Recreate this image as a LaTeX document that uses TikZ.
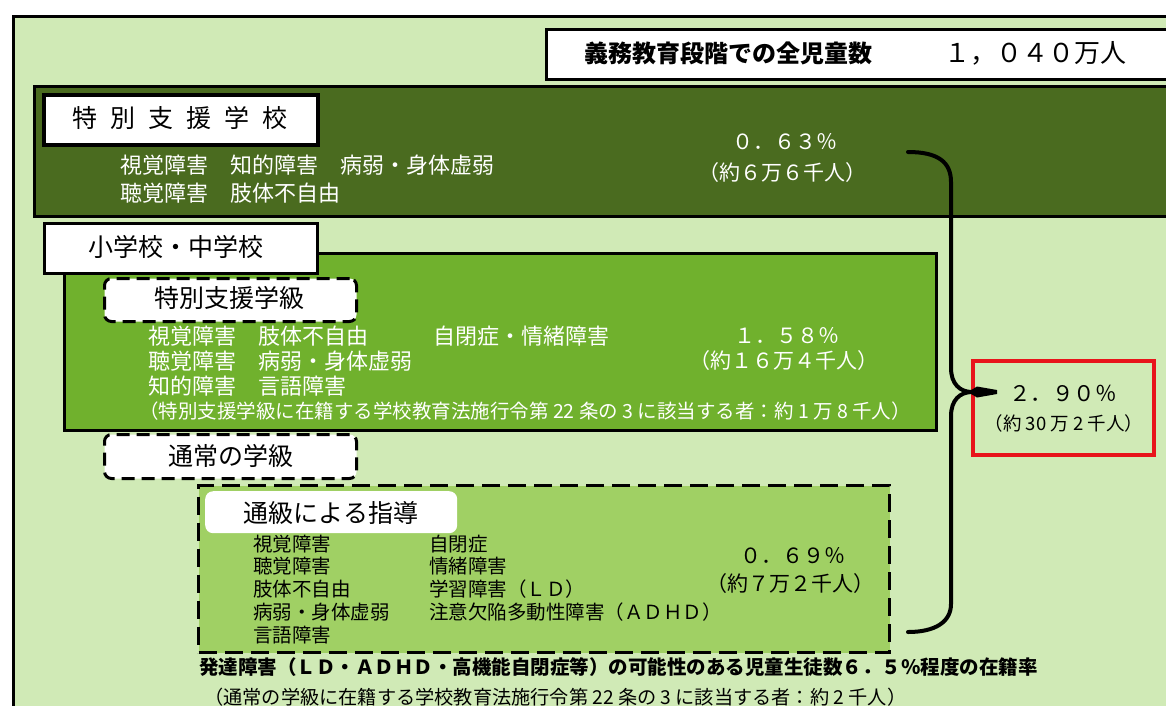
\documentclass[tikz,border=0pt]{standalone}
\usepackage{fontspec}
\setmainfont{Noto Sans CJK JP}
\definecolor{bgg}{HTML}{D0EAB6}
\definecolor{dkg}{HTML}{4A6B1F}
\definecolor{mdg}{HTML}{70B12D}
\definecolor{ltg}{HTML}{A0D064}
\definecolor{redb}{HTML}{E8141B}
\newcommand{\fsz}[1]{\fontsize{#1}{#1}\selectfont}
\tikzset{
  box/.style={draw=black, line width=3pt, inner sep=0pt, anchor=north west},
  dbox/.style={draw=black, line width=3pt, inner sep=0pt, anchor=north west, fill=white, rounded corners=7pt, dash pattern=on 13pt off 7pt},
  txt/.style={inner sep=0pt, anchor=west},
  ctxt/.style={inner sep=0pt, anchor=center},
  brace/.style={draw=black, line width=4pt, line cap=round}
}
\begin{document}
\begin{tikzpicture}[x=1pt,y=-1pt]
\useasboundingbox (0,0) rectangle (1166,705);
\clip (0,0) rectangle (1166,705);
% outer background
\node[box, fill=bgg, minimum width=1200pt, minimum height=720pt] (outer) at (12,15) {};
% header
\node[box, fill=white, minimum width=650pt, minimum height=50pt] (header) at (545,28) {};
\node[ctxt, font=\fsz{24}\bfseries] (title) at (728,53) {義務教育段階での全児童数};
\node[ctxt, font=\fsz{26}] (total) at (1035,53) {１，０４０万人};
% special support school
\node[box, fill=dkg, minimum width=1150pt, minimum height=130pt] (school) at (33,85) {};
\node[box, fill=white, line width=4pt, minimum width=274pt, minimum height=50pt] (schooltag) at (42,93) {};
\node[ctxt, font=\fsz{25}] (schoolname) at (180,118) {特\hspace{13pt}別\hspace{13pt}支\hspace{13pt}援\hspace{13pt}学\hspace{13pt}校};
\node[txt, font=\fsz{22}, text=white] (s1) at (120,165) {視覚障害　知的障害　病弱・身体虚弱};
\node[txt, font=\fsz{22}, text=white] (s2) at (120,193) {聴覚障害　肢体不自由};
\node[ctxt, font=\fsz{21}, text=white] (spct) at (785,142) {０．６３％};
\node[ctxt, font=\fsz{21}, text=white] (snum) at (782,173) {（約６万６千人）};
% elementary / junior high
\node[box, fill=mdg, minimum width=872pt, minimum height=177pt] (elem) at (63,252) {};
\node[box, fill=white, minimum width=273pt, minimum height=50pt] (elemtag) at (43,222) {};
\node[ctxt, font=\fsz{25}] (elemname) at (176,247) {小学校・中学校};
\node[dbox, minimum width=252pt, minimum height=43pt] (classtag) at (103,277) {};
\node[ctxt, font=\fsz{25}] (classname) at (229,298) {特別支援学級};
\node[txt, font=\fsz{22}, text=white] (c1) at (148,336) {視覚障害　肢体不自由};
\node[txt, font=\fsz{22}, text=white] (c1b) at (433,336) {自閉症・情緒障害};
\node[txt, font=\fsz{22}, text=white] (c2) at (148,361) {聴覚障害　病弱・身体虚弱};
\node[txt, font=\fsz{22}, text=white] (c3) at (148,386) {知的障害　言語障害};
\node[txt, font=\fsz{19.5}, text=white] (c4) at (139,411) {（特別支援学級に在籍する学校教育法施行令第 22 条の 3 に該当する者：約 1 万 8 千人）};
\node[ctxt, font=\fsz{21}, text=white] (cpct) at (787,336) {１．５８％};
\node[ctxt, font=\fsz{21}, text=white] (cnum) at (784,361) {（約１６万４千人）};
% regular class
\node[dbox, minimum width=252pt, minimum height=44pt] (regtag) at (103,433) {};
\node[ctxt, font=\fsz{25}] (regname) at (231,456) {通常の学級};
% resource room guidance
\node[box, fill=ltg, dash pattern=on 18pt off 8pt, minimum width=691pt, minimum height=167pt] (res) at (197,484) {};
\node[fill=white, inner sep=0pt, rounded corners=8pt, anchor=north west, minimum width=252pt, minimum height=42pt] (restag) at (205,491) {};
\node[ctxt, font=\fsz{25}] (resname) at (331,513) {通級による指導};
\node[txt, font=\fsz{19.5}] (r1) at (253,544) {視覚障害};
\node[txt, font=\fsz{19.5}] (r2) at (253,566) {聴覚障害};
\node[txt, font=\fsz{19.5}] (r3) at (253,589) {肢体不自由};
\node[txt, font=\fsz{19.5}] (r4) at (253,612) {病弱・身体虚弱};
\node[txt, font=\fsz{19.5}] (r5) at (253,635) {言語障害};
\node[txt, font=\fsz{19.5}] (q1) at (429,544) {自閉症};
\node[txt, font=\fsz{19.5}] (q2) at (429,566) {情緒障害};
\node[txt, font=\fsz{19.5}] (q3) at (429,589) {学習障害（ＬＤ）};
\node[txt, font=\fsz{19.5}] (q4) at (429,612) {注意欠陥多動性障害（ＡＤＨＤ）};
\node[ctxt, font=\fsz{21}] (rpct) at (793,556) {０．６９％};
\node[ctxt, font=\fsz{21}] (rnum) at (790,584) {（約７万２千人）};
% bottom notes
\node[txt, font=\fsz{19.5}\bfseries] (n1) at (199,667) {発達障害（ＬＤ・ＡＤＨＤ・高機能自閉症等）の可能性のある児童生徒数６．５％程度の在籍率};
\node[txt, font=\fsz{19.2}] (n2) at (204,697) {（通常の学級に在籍する学校教育法施行令第 22 条の 3 に該当する者：約 2 千人）};
% total box
\node[box, draw=redb, line width=3.5pt, minimum width=181pt, minimum height=94pt] (sum) at (971,359) {};
\node[ctxt, font=\fsz{21.5}] (sumpct) at (1063,393) {２．９０％};
\node[ctxt, font=\fsz{18.5}] (sumnum) at (1064,423) {（約 30 万 2 千人）};
% brace
\coordinate (btop) at (908,152);
\coordinate (bbot) at (908,632);
\coordinate (bmid) at (972,392);
\draw[brace] (btop) .. controls (938,152) and (951,162) .. (951,182) -- (951,368) .. controls (951,384) and (960,392) .. (bmid);
\draw[brace] (bmid) .. controls (960,392) and (951,400) .. (951,416) -- (951,604) .. controls (951,622) and (935,632) .. (bbot);
\fill[black] (968,392) -- (977,386.5) -- (997,390) -- (997,394) -- (977,397.5) -- cycle;
\end{tikzpicture}
\end{document}
